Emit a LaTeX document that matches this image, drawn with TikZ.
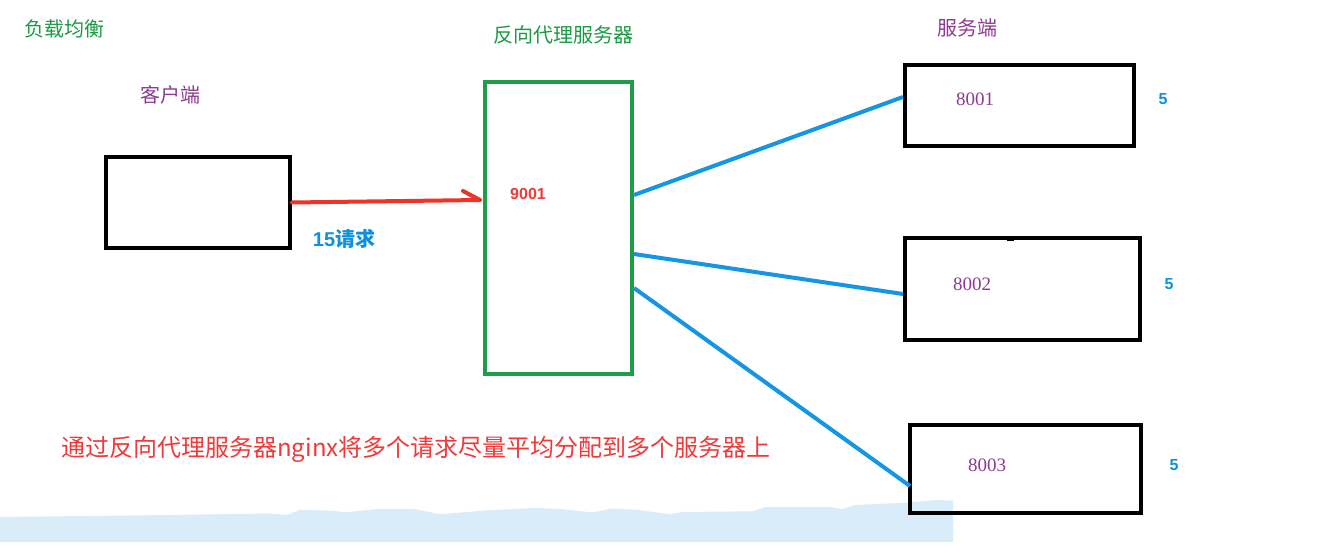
\documentclass[tikz,border=0pt]{standalone}
\usepackage{fontspec}
\setmainfont{Liberation Sans}
\newfontfamily\cjk{Noto Sans CJK SC}
\newfontfamily\numserif{Liberation Serif}
\usetikzlibrary{calc}
\definecolor{tgreen}{HTML}{1B9A44}
\definecolor{tpurple}{HTML}{8E3A90}
\definecolor{tblue}{HTML}{0F8FDF}
\definecolor{tred}{HTML}{F03A3A}
\definecolor{boxgreen}{HTML}{1E9E48}
\definecolor{linkblue}{HTML}{1496E4}
\definecolor{arrowred}{HTML}{EE3328}
\definecolor{haze}{HTML}{D8ECFA}
\tikzset{
  x=1pt, y=-1pt,
  label/.style={inner sep=0pt, anchor=center},
  blackbox/.style={draw=black, line width=4pt, inner sep=0pt},
  proxybox/.style={draw=boxgreen, line width=4pt, inner sep=0pt},
  link/.style={draw=linkblue, line width=4pt},
  request/.style={draw=arrowred, line width=4pt, line cap=round},
  portnum/.style={label, text=tpurple, font=\numserif\fontsize{19}{19}\selectfont},
  weight/.style={label, text=tblue, font=\bfseries\fontsize{16}{16}\selectfont},
  heading/.style={label, font=\cjk\fontsize{20}{20}\selectfont},
}
\begin{document}
\begin{tikzpicture}
\useasboundingbox (0,0) rectangle (1342,553);
\fill[white] (0,0) rectangle (1342,553);

% soft band along the lower edge
\fill[haze] (0,517) -- (172,515) -- (268,513.5) -- (287,515) -- (300,510) -- (332,510.6)
  -- (344,512.4) -- (376,509.2) -- (415,509.2) -- (440,514.2) -- (485,510.6) -- (536,507.8)
  -- (561,509.2) -- (593,512.4) -- (612,508.5) -- (638,510) -- (670,514.2) -- (682,512)
  -- (753,511.3) -- (765,507) -- (829,507) -- (842,509.2) -- (855,505) -- (906,502.8)
  -- (937,500) -- (953,500.7) -- (953,542) -- (0,542) -- cycle;

% titles
\node[heading, text=tgreen] (title) at (64,29) {负载均衡};
\node[heading, text=tgreen] (proxytitle) at (563,35) {反向代理服务器};
\node[heading, text=tpurple] (clienttitle) at (170,95) {客户端};
\node[heading, text=tpurple] (servertitle) at (967,28) {服务端};

% client
\node[blackbox, minimum width=184pt, minimum height=91pt] (client) at (198,202.5) {};

% reverse proxy
\node[proxybox, minimum width=147pt, minimum height=292pt] (proxy) at (558.5,228) {};
\node[label, text=tred, font=\bfseries\fontsize{16}{16}\selectfont] (port) at (528,194) {9001};

% upstream servers
\node[blackbox, minimum width=229pt, minimum height=81pt] (s1) at (1019.5,105.5) {};
\node[blackbox, minimum width=235pt, minimum height=102pt] (s2) at (1022.5,289) {};
\node[blackbox, minimum width=231pt, minimum height=88pt] (s3) at (1025.5,469) {};
\fill[black] ($(s2.north)+(-15.5,0)$) rectangle ($(s2.north)+(-9,5)$);

\node[portnum] (p1) at (975,99) {8001};
\node[portnum] (p2) at (972,284) {8002};
\node[portnum] (p3) at (987,465) {8003};

\node[weight] (w1) at (1163,99) {5};
\node[weight] (w2) at (1169,284) {5};
\node[weight] (w3) at (1174,465) {5};

% request from the client to the proxy
\coordinate (tip) at ($(proxy.west)+(-3,-28)$);
\draw[request] (client.east) -- (tip);
\draw[request] ($(tip)+(-17,-9)$) -- (tip);
\node[label, text=tblue, font=\bfseries\fontsize{20}{20}\selectfont] (reqlabel) at (344,239) {15{\cjk\fontsize{20}{20}\selectfont 请求}};

% proxy to servers
\draw[link] ($(proxy.north east)+(0,115)$) -- ($(s1.west)+(0,-8.5)$);
\draw[link] ($(proxy.north east)+(0,174)$) -- ($(s2.west)+(0,5)$);
\draw[link] ($(proxy.north east)+(0,208)$) -- ($(s3.west)+(2,17)$);

% caption
\node[label, text=tred, font=\cjk\fontsize{24}{24}\selectfont] (caption) at (416,449) {通过反向代理服务器nginx将多个请求尽量平均分配到多个服务器上};
\end{tikzpicture}
\end{document}
